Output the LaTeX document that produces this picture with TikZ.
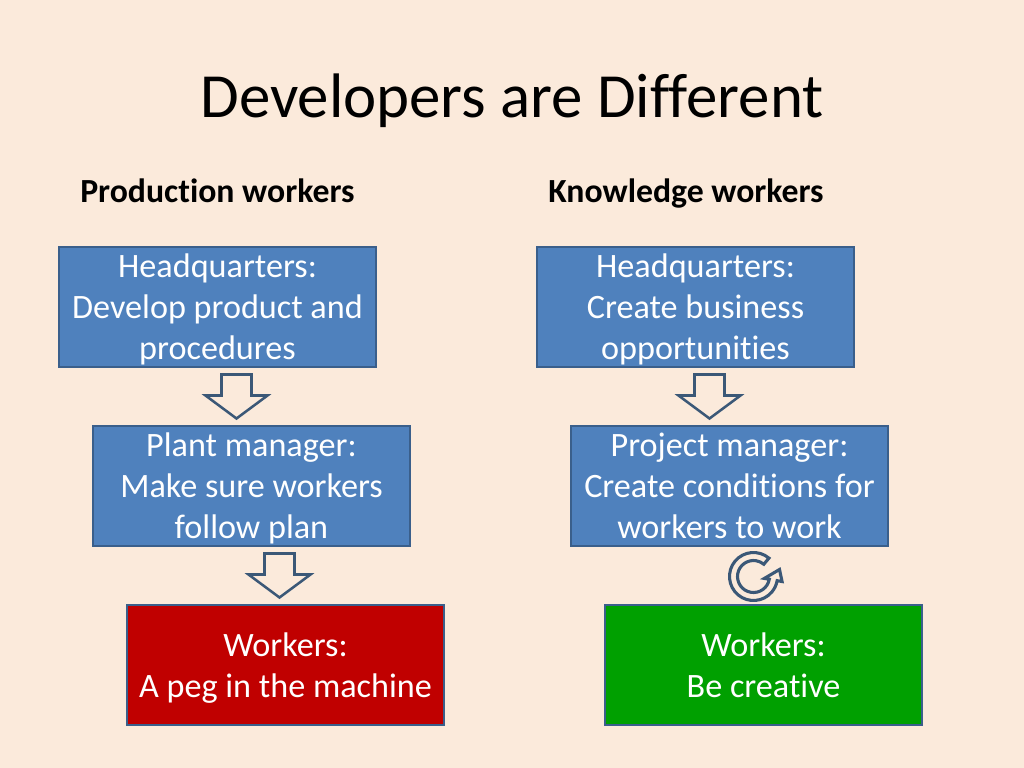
\documentclass[tikz,border=0pt]{standalone}
\usepackage{fontspec}
\setmainfont{Carlito}[Ligatures=NoCommon]
\usetikzlibrary{calc}

\definecolor{bg}{HTML}{FBEADB}
\definecolor{boxblue}{HTML}{4F81BD}
\definecolor{boxline}{HTML}{3A5F8B}
\definecolor{arrowblue}{HTML}{3B5877}
\definecolor{pegred}{HTML}{C00000}
\definecolor{freegreen}{HTML}{00A000}

\tikzset{
  box/.style={draw=boxline, line width=1.4pt, fill=boxblue, text=white,
    minimum width=7.925cm, minimum height=3cm, inner sep=0pt, align=center,
    text depth=0pt, font=\fontsize{24.3}{29.2}\selectfont},
  header/.style={anchor=base west, inner sep=0pt, font=\fontsize{24}{29}\selectfont\bfseries},
  blockarrow/.pic={
    \filldraw[fill=bg, draw=arrowblue, line width=1.8pt, line join=miter]
      (-15,-22) -- (15,-22) -- (15,-1) -- (31,-1) -- (0,22) -- (-31,-1) -- (-15,-1) -- cycle;
  },
  cyclearrow/.pic={
    \filldraw[fill=bg, draw=arrowblue, line width=2.2pt, line join=miter]
      (-50:24) arc[start angle=-50, end angle=-350, radius=24]
      -- (-350:29) -- (26,-7) -- (-350:11) -- (-350:16)
      arc[start angle=-350, end angle=-50, radius=16] -- cycle;
  }
}

\begin{document}
\begin{tikzpicture}[x=0.025cm, y=-0.025cm]

    % Background of the slide
    \fill[bg] (0,0) rectangle (1024,768);
    \useasboundingbox (0,0) rectangle (1024,768);

    % Title
    \node[anchor=base, inner sep=0pt, font=\fontsize{44.7}{54}\selectfont] (title) at (512,118) {Developers are Different};

    % Column headers
    \node[header] (prodhead) at (80,202) {Production workers};
    \node[header] (knowhead) at (548,202) {Knowledge workers};

    % Left column: production workers
    \node[box] (hqprod) at (217.5,307) {Headquarters:\\Develop product and\\procedures};
    \node[box] (plant) at (251.5,486) {Plant manager:\\Make sure workers\\follow plan};
    \node[box, fill=pegred] (peg) at (285.5,665) {Workers:\\A peg in the machine};

    % Right column: knowledge workers
    \node[box] (hqknow) at (695.5,307) {Headquarters:\\Create business\\opportunities};
    \node[box] (project) at (729.5,486) {Project manager:\\Create conditions for\\workers to work};
    \node[box, fill=freegreen] (creative) at (763.5,665) {Workers:\\Be creative};

    % Block arrows between the left boxes
    \pic at ($(hqprod.south)!0.5!(plant.north)+(2,0)$) {blockarrow};
    \pic at ($(plant.south)!0.5!(peg.north)+(11,0)$) {blockarrow};

    % Block arrow and cycle arrow on the right
    \pic at ($(hqknow.south)!0.5!(project.north)+(-3,0)$) {blockarrow};
    \pic at ($(project.south)!0.5!(creative.north)+(7,1)$) {cyclearrow};

\end{tikzpicture}
\end{document}
